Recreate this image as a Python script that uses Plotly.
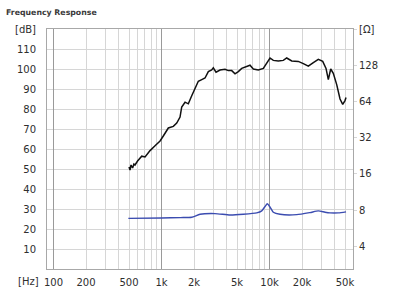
import plotly.graph_objects as go
import math

# SPL curve (left axis, dB)
spl_freq = [500, 511, 522, 540, 555, 568, 600, 656, 704, 783, 871, 969, 1039, 1156, 1286, 1383, 1484,
            1538, 1651, 1771, 1904, 2043, 2191, 2357, 2528, 2713, 2915, 3017, 3196, 3481, 3873,
            4155, 4467, 4794, 5142, 5529, 6151, 6599, 7079, 7876, 8762, 9422, 10107, 10844,
            12063, 13420, 14431, 16055, 18482, 20560, 22874, 25445, 28310, 31090, 33360,
            35040, 36870, 38960, 41900, 44970, 47620, 50000, 51100]
spl_db = [51.0, 49.5, 52.0, 50.5, 52.5, 52.0, 54.0, 56.4, 56.0, 59.2, 61.6, 64.0, 66.5, 70.5, 71.3, 73.0, 76.0,
          81.0, 83.4, 82.6, 86.6, 90.6, 93.9, 94.7, 95.5, 98.7, 99.5, 100.6, 98.4, 99.5, 99.9,
          99.2, 99.2, 97.6, 98.7, 100.3, 101.1, 101.9, 100.0, 99.5, 100.3, 102.7, 105.5, 104.3,
          104.0, 104.3, 105.5, 104.0, 103.8, 102.7, 101.4, 103.2, 104.8, 103.8, 100.3,
          94.7, 100.0, 97.8, 92.2, 85.0, 82.3, 84.2, 85.8]

# Impedance curve (right axis, ohm)
imp_freq = [493, 1000, 1500, 1904, 2273, 3129, 4309, 5721, 7612, 8471, 9085, 9541, 10107, 10844,
            12510, 17860, 23714, 28310, 32660, 36330, 43350, 51100]
imp_ohm = [6.85, 6.9, 6.95, 7.0, 7.4, 7.5, 7.3, 7.4, 7.6, 7.9, 8.6, 9.05, 8.5, 7.7,
           7.4, 7.35, 7.65, 7.9, 7.7, 7.6, 7.6, 7.75]

x_ticks = [100, 200, 500, 1000, 2000, 5000, 10000, 20000, 50000]
x_labels = ["100", "200", "500", "1k", "2k", "5k", "10k", "20k", "50k"]
x_minor = [300, 400, 600, 700, 800, 900, 3000, 4000, 6000, 7000, 8000, 9000, 30000, 40000]
x_dark = [100, 1000, 10000]
y_ticks = [10, 20, 30, 40, 50, 60, 70, 80, 90, 100, 110, 120]
y_labels = ["10", "20", "30", "40", "50", "60", "70", "80", "90", "100", "110", "[dB]"]
y2_ticks = [4, 8, 16, 32, 64, 128, 256]
y2_labels = ["4", "8", "16", "32", "64", "128", "[Ω]"]

x_range = [math.log10(87), math.log10(59300)]
y2_range = [math.log10(2.6), math.log10(256)]

FONT = "DejaVu Sans"
TXT = "#2e2e2e"
LIGHT = "#d6d6d6"
DARK = "#9a9a9a"
FRAME = "#a8a8a8"

fig = go.Figure()
fig.add_trace(go.Scatter(x=imp_freq, y=imp_ohm, xaxis="x", yaxis="y2", mode="lines",
                         line=dict(color="#3b4cb0", width=1.4, shape="spline", smoothing=0.6),
                         hoverinfo="skip"))
fig.add_trace(go.Scatter(x=spl_freq, y=spl_db, xaxis="x", yaxis="y", mode="lines",
                         line=dict(color="#111111", width=1.5), hoverinfo="skip"))
# helper trace so the overlay grid axis is drawn
fig.add_trace(go.Scatter(x=[1000], y=[60], xaxis="x2", yaxis="y", mode="markers",
                         marker=dict(opacity=0), hoverinfo="skip"))

fig.update_layout(
    width=400, height=300,
    margin=dict(l=47, r=47, t=29, b=25),
    paper_bgcolor="white", plot_bgcolor="white",
    showlegend=False,
    font=dict(family=FONT, size=10, color=TXT),
    title=dict(text="<b>Frequency Response</b>", x=0.015, xanchor="left",
               y=1 - 12 / 300, yanchor="middle", font=dict(size=7.8, color="#3a3a3a")),
    xaxis=dict(type="log", range=x_range, tickmode="array", tickvals=x_ticks, ticktext=x_labels,
               showgrid=True, gridcolor=LIGHT, gridwidth=1, ticks="",
               showline=True, linecolor=FRAME, linewidth=1, mirror=True,
               minor=dict(tickmode="array", tickvals=x_minor, showgrid=True, gridcolor=LIGHT, ticks=""),
               ticklabelstandoff=4, zeroline=False),
    xaxis2=dict(type="log", range=x_range, overlaying="x", tickmode="array", tickvals=x_dark,
                showgrid=True, gridcolor=DARK, gridwidth=1, showticklabels=False, ticks="",
                showline=False, zeroline=False),
    yaxis=dict(range=[0, 120], tickmode="array", tickvals=y_ticks, ticktext=y_labels,
               showgrid=True, gridcolor=LIGHT, ticks="", showline=True, linecolor=FRAME,
               mirror=True, zeroline=False, ticklabelstandoff=8),
    yaxis2=dict(type="log", range=y2_range, overlaying="y", side="right", tickmode="array",
                tickvals=y2_ticks, ticktext=y2_labels, showgrid=False, ticks="outside",
                ticklen=3, tickcolor=LIGHT, showline=False, zeroline=False),
    annotations=[dict(text="[Hz]", xref="paper", yref="paper", x=(28 - 47) / 306, y=(275 - 288) / 246,
                      xanchor="center", yanchor="middle", showarrow=False,
                      font=dict(family=FONT, size=10, color=TXT))],
)

fig.write_html("out.html")
